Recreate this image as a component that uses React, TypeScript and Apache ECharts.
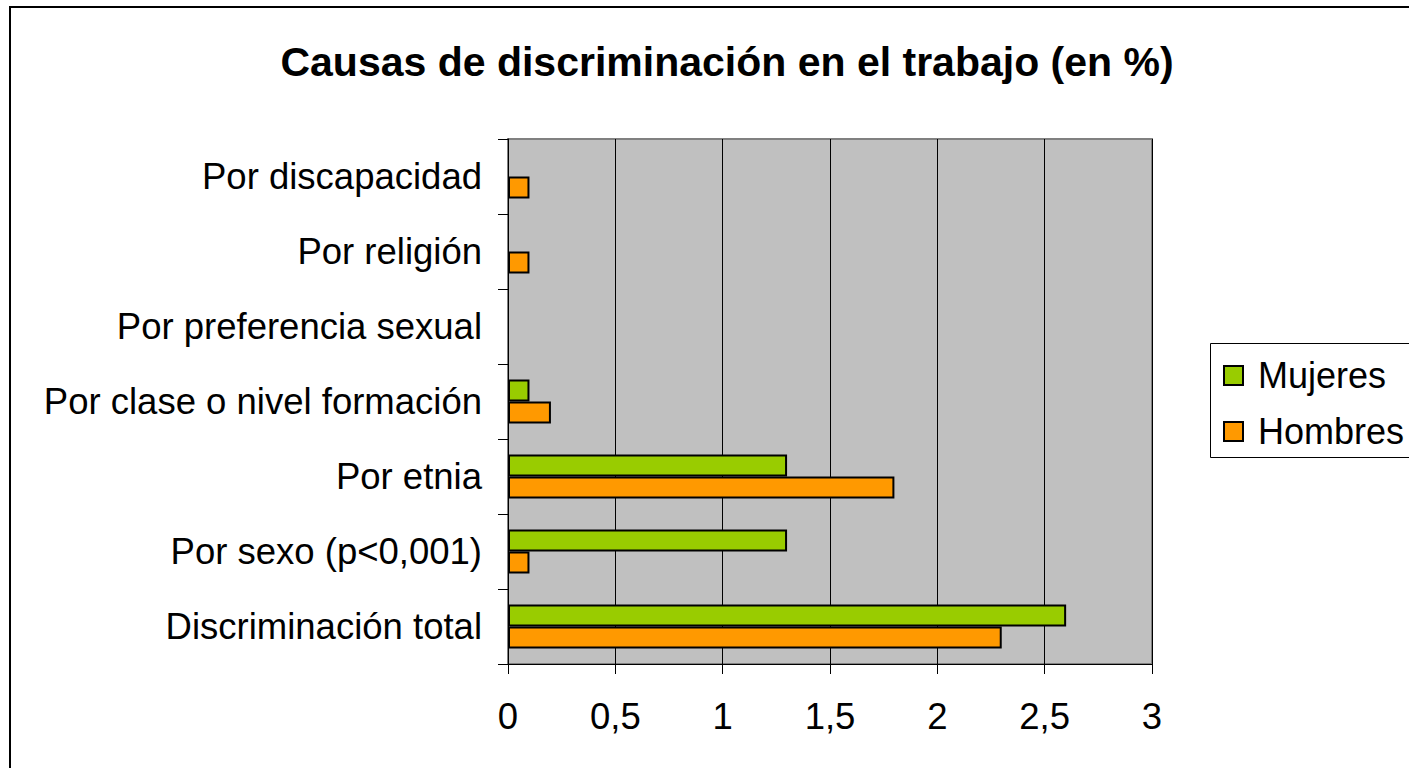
import React, { useEffect, useRef } from "react";
import * as echarts from "echarts";

const categories = [
  "Discriminación total",
  "Por sexo (p<0,001)",
  "Por etnia",
  "Por clase o nivel formación",
  "Por preferencia sexual",
  "Por religión",
  "Por discapacidad",
];
const mujeres: (number | null)[] = [2.6, 1.3, 1.3, 0.1, null, null, null];
const hombres: (number | null)[] = [2.3, 0.1, 1.8, 0.2, null, 0.1, 0.1];
const seriesNames = ["Mujeres", "Hombres"];
const seriesColors = ["#99CC00", "#FF9900"];
const title = "Causas de discriminación en el trabajo (en %)";
const FONT = "'Liberation Sans', Arial, sans-serif";

export default function App() {
  const ref = useRef<HTMLDivElement>(null);
  useEffect(() => {
    if (!ref.current) return;
    const chart = echarts.init(ref.current, null, { renderer: "svg" });
    const seriesData = [mujeres, hombres];
    chart.setOption({
      animation: false,
      backgroundColor: "#ffffff",
      title: {
        text: title,
        left: 722,
        top: 36,
        textAlign: "center",
        textStyle: { fontFamily: FONT, fontSize: 41, fontWeight: "bold", color: "#000" },
      },
      grid: {
        left: 508,
        top: 139,
        width: 644,
        height: 525,
        show: true,
        backgroundColor: "#C0C0C0",
        borderColor: "#808080",
        borderWidth: 2,
      },
      xAxis: {
        type: "value",
        min: 0,
        max: 3,
        interval: 0.5,
        axisLine: { show: true, lineStyle: { color: "#000", width: 1 } },
        axisTick: { show: true, length: 10, lineStyle: { color: "#000" } },
        splitLine: { show: true, lineStyle: { color: "#000", width: 1 } },
        axisLabel: {
          margin: 34,
          fontFamily: FONT,
          fontSize: 36.5,
          color: "#000",
          formatter: (v: number) => String(v).replace(".", ","),
        },
      },
      yAxis: {
        type: "category",
        data: categories,
        axisLine: { show: true, lineStyle: { color: "#000", width: 1 } },
        axisTick: { show: true, length: 10, lineStyle: { color: "#000" } },
        axisLabel: { margin: 26, fontFamily: FONT, fontSize: 36.5, color: "#000" },
        splitLine: { show: false },
      },
      graphic: [
        {
          type: "rect",
          shape: { x: 10, y: 7, width: 1420, height: 800 },
          style: { fill: "none", stroke: "#000", lineWidth: 2 },
          silent: true,
        },
        {
          type: "rect",
          shape: { x: 1210.5, y: 343.5, width: 220, height: 114 },
          style: { fill: "#fff", stroke: "#000", lineWidth: 1 },
          silent: true,
        },
        ...seriesNames.flatMap((name, i) => [
          {
            type: "rect",
            shape: { x: 1224, y: 366 + i * 56, width: 19, height: 19 },
            style: { fill: seriesColors[i], stroke: "#000", lineWidth: 2 },
            silent: true,
          },
          {
            type: "text",
            x: 1258,
            y: 375 + i * 56,
            style: {
              text: name,
              font: `36px ${FONT}`,
              fill: "#000",
              textVerticalAlign: "middle",
              verticalAlign: "middle",
            },
            silent: true,
          },
        ]),
      ],
      series: seriesNames.map((name, i) => ({
        name,
        type: "bar",
        data: seriesData[i],
        barWidth: 22,
        barGap: "0%",
        itemStyle: { color: seriesColors[i], borderColor: "#000", borderWidth: 2 },
      })),
    });
    return () => chart.dispose();
  }, []);
  return (
    <div
      ref={ref}
      style={{ position: "absolute", left: 0, top: 0, width: 1409, height: 768 }}
    />
  );
}
